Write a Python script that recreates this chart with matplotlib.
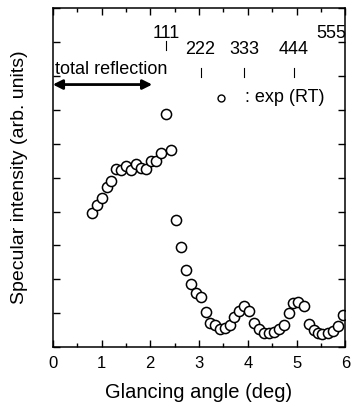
import matplotlib
matplotlib.use("Agg")
import matplotlib.pyplot as plt
from matplotlib.ticker import MultipleLocator, NullFormatter

plt.rcParams['font.family'] = ['Liberation Sans', 'DejaVu Sans']

angle = [0.80, 0.90, 1.00, 1.11, 1.19, 1.30, 1.40, 1.50, 1.60, 1.71, 1.80, 1.91,
         2.01, 2.12, 2.21, 2.32, 2.42, 2.52, 2.62, 2.73, 2.83, 2.93, 3.03, 3.14,
         3.22, 3.33, 3.43, 3.53, 3.63, 3.72, 3.82, 3.93, 4.03, 4.13, 4.23, 4.34,
         4.43, 4.53, 4.64, 4.74, 4.85, 4.93, 5.03, 5.15, 5.26, 5.35, 5.44, 5.53,
         5.64, 5.74, 5.85, 5.95]
intensity = [3.96, 4.18, 4.40, 4.73, 4.91, 5.26, 5.21, 5.33, 5.21, 5.40, 5.29, 5.24,
             5.48, 5.50, 5.73, 6.87, 5.80, 3.74, 2.96, 2.29, 1.87, 1.59, 1.48, 1.04,
             0.71, 0.65, 0.53, 0.58, 0.65, 0.90, 1.07, 1.21, 1.07, 0.71, 0.55, 0.41,
             0.43, 0.45, 0.53, 0.65, 1.02, 1.31, 1.33, 1.21, 0.68, 0.50, 0.43, 0.38,
             0.41, 0.48, 0.63, 0.94]

bragg_labels = ["111", "222", "333", "444", "555"]
bragg_pos = [2.32, 3.03, 3.93, 4.95, 5.99]
bragg_text_y = [9.24, 8.76, 8.76, 8.76, 9.24]
bragg_line_y = [(8.76, 9.03), (7.97, 8.24), (7.97, 8.24), (7.97, 8.24), (8.97, 9.29)]

fig = plt.figure(figsize=(3.52, 4.12), dpi=100)
ax = fig.add_axes([0.150, 0.157, 0.831, 0.824])

ax.plot(angle, intensity, linestyle='none', marker='o', markersize=7.3,
        markerfacecolor='white', markeredgecolor='black', markeredgewidth=1.1)

ax.set_xlim(0, 6)
ax.set_ylim(0, 10)

ax.xaxis.set_major_locator(MultipleLocator(1))
ax.xaxis.set_minor_locator(MultipleLocator(0.5))
ax.yaxis.set_major_locator(MultipleLocator(1))
ax.yaxis.set_major_formatter(NullFormatter())
ax.tick_params(axis='both', which='both', direction='in', top=True, right=True,
               labelsize=12, width=1)
ax.tick_params(axis='both', which='major', length=5)
ax.tick_params(axis='both', which='minor', length=3)
ax.tick_params(axis='x', pad=6)
for s in ax.spines.values():
    s.set_linewidth(1.1)

ax.set_xlabel("Glancing angle (deg)", fontsize=14.5, labelpad=9)
ax.set_ylabel("Specular intensity (arb. units)", fontsize=14, labelpad=14)

for lab, xp, ty, (y0, y1) in zip(bragg_labels, bragg_pos, bragg_text_y, bragg_line_y):
    ha = 'center'
    tx = xp
    if lab == "555":
        ha = 'right'
        tx = 6.03
    ax.text(tx, ty, lab, ha=ha, va='center', fontsize=13)
    ax.plot([xp, xp], [y0, y1], color='black', linewidth=0.8)

ax.annotate("", xy=(0.0, 7.74), xytext=(2.04, 7.74),
            arrowprops=dict(arrowstyle='<|-|>', color='black', lw=2,
                            mutation_scale=14, shrinkA=0, shrinkB=0))
ax.text(0.04, 8.18, "total reflection", ha='left', va='center', fontsize=13)

ax.plot([3.46], [7.35], linestyle='none', marker='o', markersize=5,
        markerfacecolor='white', markeredgecolor='black', markeredgewidth=1)
ax.text(3.95, 7.35, ": exp (RT)", ha='left', va='center', fontsize=13)

fig.savefig("out.png", dpi=100)
